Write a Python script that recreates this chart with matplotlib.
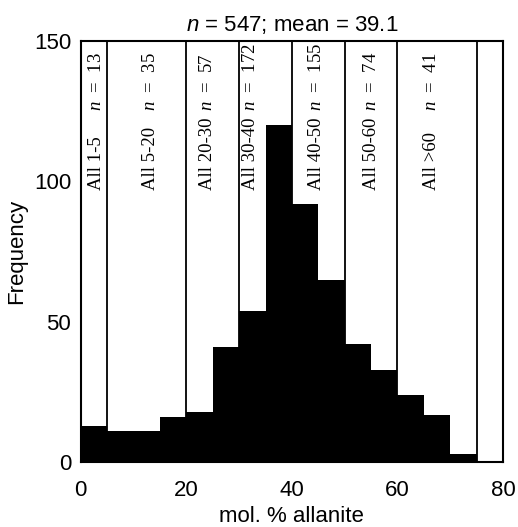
import matplotlib
matplotlib.use("Agg")
import matplotlib.pyplot as plt

# histogram of mol. % allanite, 5 % bins
bin_left = [0, 5, 10, 15, 20, 25, 30, 35, 40, 45, 50, 55, 60, 65, 70, 75]
counts = [13, 11, 11, 16, 18, 41, 54, 120, 92, 65, 42, 33, 24, 17, 3, 0]
bin_width = 5

# group boundaries and labels
dividers = [5, 20, 30, 40, 50, 60, 75]
group_names = ["All 1-5", "All 5-20", "All 20-30", "All 30-40", "All 40-50", "All 50-60", "All >60"]
group_n = [13, 35, 57, 172, 155, 74, 41]
group_x = [3.0, 13.2, 24.1, 32.1, 44.7, 55.1, 66.5]

plt.rcParams['font.family'] = ['Liberation Sans', 'DejaVu Sans']
plt.rcParams['mathtext.fontset'] = 'custom'
plt.rcParams['mathtext.it'] = 'Liberation Sans:italic'
plt.rcParams['mathtext.rm'] = 'Liberation Sans'
plt.rcParams['mathtext.cal'] = 'Liberation Serif:italic'

fig = plt.figure(figsize=(5.18, 5.27), dpi=100)
ax = fig.add_axes([0.156, 0.1228, 0.815, 0.80])

for d in dividers:
    ax.plot([d, d], [0, 150], color='black', lw=1.3, zorder=1)

ax.bar(bin_left, counts, width=bin_width, align='edge', color='black', linewidth=0, zorder=2)

for x, name, n in zip(group_x, group_names, group_n):
    ax.text(x, 97, name, rotation=90, ha='center', va='bottom',
            family='Liberation Serif', fontsize=13.5, zorder=3)
    ax.text(x, 125, r"$\mathcal{n}$  =  " + str(n), rotation=90, ha='center', va='bottom',
            family='Liberation Serif', fontsize=13.5, zorder=3)

ax.set_xlim(0, 80)
ax.set_ylim(0, 150)
ax.set_xticks([0, 20, 40, 60, 80])
ax.set_yticks([0, 50, 100, 150])
ax.tick_params(axis='both', length=0, labelsize=16)
ax.tick_params(axis='x', pad=13)
ax.tick_params(axis='y', pad=7)
for s in ax.spines.values():
    s.set_linewidth(1.5)
    s.set_zorder(4)

ax.set_xlabel("mol. % allanite", fontsize=16, labelpad=3)
ax.set_ylabel("Frequency", fontsize=16, labelpad=5)
ax.set_title(r"$n$ = 547; mean = 39.1", fontsize=16, pad=7)

fig.savefig("out.png", dpi=100)
